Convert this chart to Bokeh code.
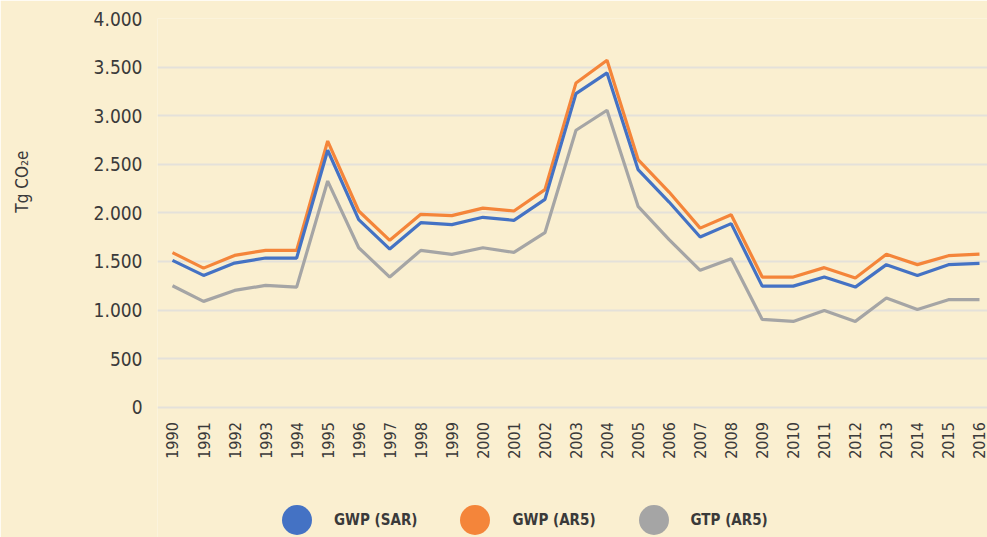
from bokeh.plotting import figure
from bokeh.models import (Range1d, FixedTicker, Legend, LegendItem, Title, ColumnDataSource)
from bokeh.embed import file_html
from bokeh.resources import INLINE
import math

years = list(range(1990, 2017))
gwp_sar = [1511, 1356, 1483, 1535, 1535, 2644, 1930, 1627, 1899, 1879, 1954, 1923, 2139, 3227, 3440,
           2445, 2111, 1751, 1889, 1246, 1246, 1339, 1236, 1467, 1356, 1467, 1480]
gwp_ar5 = [1590, 1431, 1562, 1614, 1614, 2739, 2019, 1717, 1985, 1971, 2049, 2019, 2239, 3337, 3571,
           2548, 2214, 1843, 1981, 1339, 1339, 1436, 1329, 1573, 1467, 1559, 1576]
gtp_ar5 = [1250, 1089, 1202, 1253, 1236, 2327, 1641, 1339, 1614, 1573, 1641, 1593, 1796, 2850, 3056,
           2067, 1724, 1408, 1528, 903, 883, 996, 883, 1123, 1006, 1106, 1106]
series_names = ["GWP (SAR)", "GWP (AR5)", "GTP (AR5)"]
series_colors = ["#4472C4", "#F4853A", "#A5A5A5"]
y_ticks = [0, 500, 1000, 1500, 2000, 2500, 3000, 3500, 4000]
y_tick_labels = ["0", "500", "1.000", "1.500", "2.000", "2.500", "3.000", "3.500", "4.000"]
y_axis_title = "Tg CO\u2082e"

FONT = "DejaVu Sans Condensed"
BG = "#FAEFD0"
TXT = "#3A3A3A"

# the frame runs down to the bottom edge so that the legend can sit inside it
p = figure(width=987, height=537, output_backend="svg", toolbar_location=None,
           x_range=Range1d(1989.517, 2016.258), y_range=Range1d(-1341, 4000),
           min_border_left=157, min_border_right=0, min_border_top=18, min_border_bottom=0)
p.background_fill_color = BG
p.border_fill_color = BG
p.outline_line_color = None

src = ColumnDataSource(dict(year=years, sar=gwp_sar, ar5=gwp_ar5, gtp=gtp_ar5))
p.line("year", "gtp", source=src, line_color=series_colors[2], line_width=3.2)
p.line("year", "ar5", source=src, line_color=series_colors[1], line_width=3.2)
p.line("year", "sar", source=src, line_color=series_colors[0], line_width=3.2)

# x axis pinned at y = 0
p.xaxis.fixed_location = 0
p.xaxis.ticker = FixedTicker(ticks=years)
p.xaxis.major_label_orientation = math.pi / 2
p.xaxis.major_label_text_font = FONT
p.xaxis.major_label_text_font_size = "16px"
p.xaxis.major_label_text_color = TXT
p.xaxis.major_label_standoff = 9
p.xaxis.axis_line_color = None
p.xaxis.major_tick_line_color = None
p.xaxis.minor_tick_line_color = None

p.yaxis.ticker = FixedTicker(ticks=y_ticks)
p.yaxis.major_label_overrides = {t: l for t, l in zip(y_ticks, y_tick_labels)}
p.yaxis.major_label_text_font = FONT
p.yaxis.major_label_text_font_size = "19px"
p.yaxis.major_label_text_color = TXT
p.yaxis.major_label_standoff = 9
p.yaxis.axis_line_color = None
p.yaxis.major_tick_line_color = None
p.yaxis.minor_tick_line_color = None
p.yaxis.axis_label = "\u00a0"
p.yaxis.axis_label_text_font_size = "1px"
p.yaxis.axis_label_standoff = 55

p.xgrid.grid_line_color = None
p.ygrid.ticker = FixedTicker(ticks=y_ticks)
p.ygrid.grid_line_color = "#E4E1DA"
p.ygrid.grid_line_width = 2

# y axis title
p.add_layout(Title(text=y_axis_title, align="right", offset=132, standoff=0,
                   text_font=FONT, text_font_size="17px", text_font_style="normal",
                   text_color=TXT), "left")

# legend
items = []
for name, col in zip(series_names, series_colors):
    r = p.scatter(x=[float("nan")], y=[float("nan")], marker="circle", size=10,
                  fill_color=col, line_color=None)
    items.append(LegendItem(label=name, renderers=[r]))
legend = Legend(items=items, orientation="horizontal", location=(102, -20),
                glyph_width=75, glyph_height=75, label_standoff=0, spacing=20, padding=0, margin=0,
                label_text_font=FONT, label_text_font_size="15px", label_text_font_style="bold",
                label_text_color=TXT, background_fill_alpha=0, border_line_color=None)
p.add_layout(legend, "center")

open("out.html", "w").write(file_html(p, INLINE))
